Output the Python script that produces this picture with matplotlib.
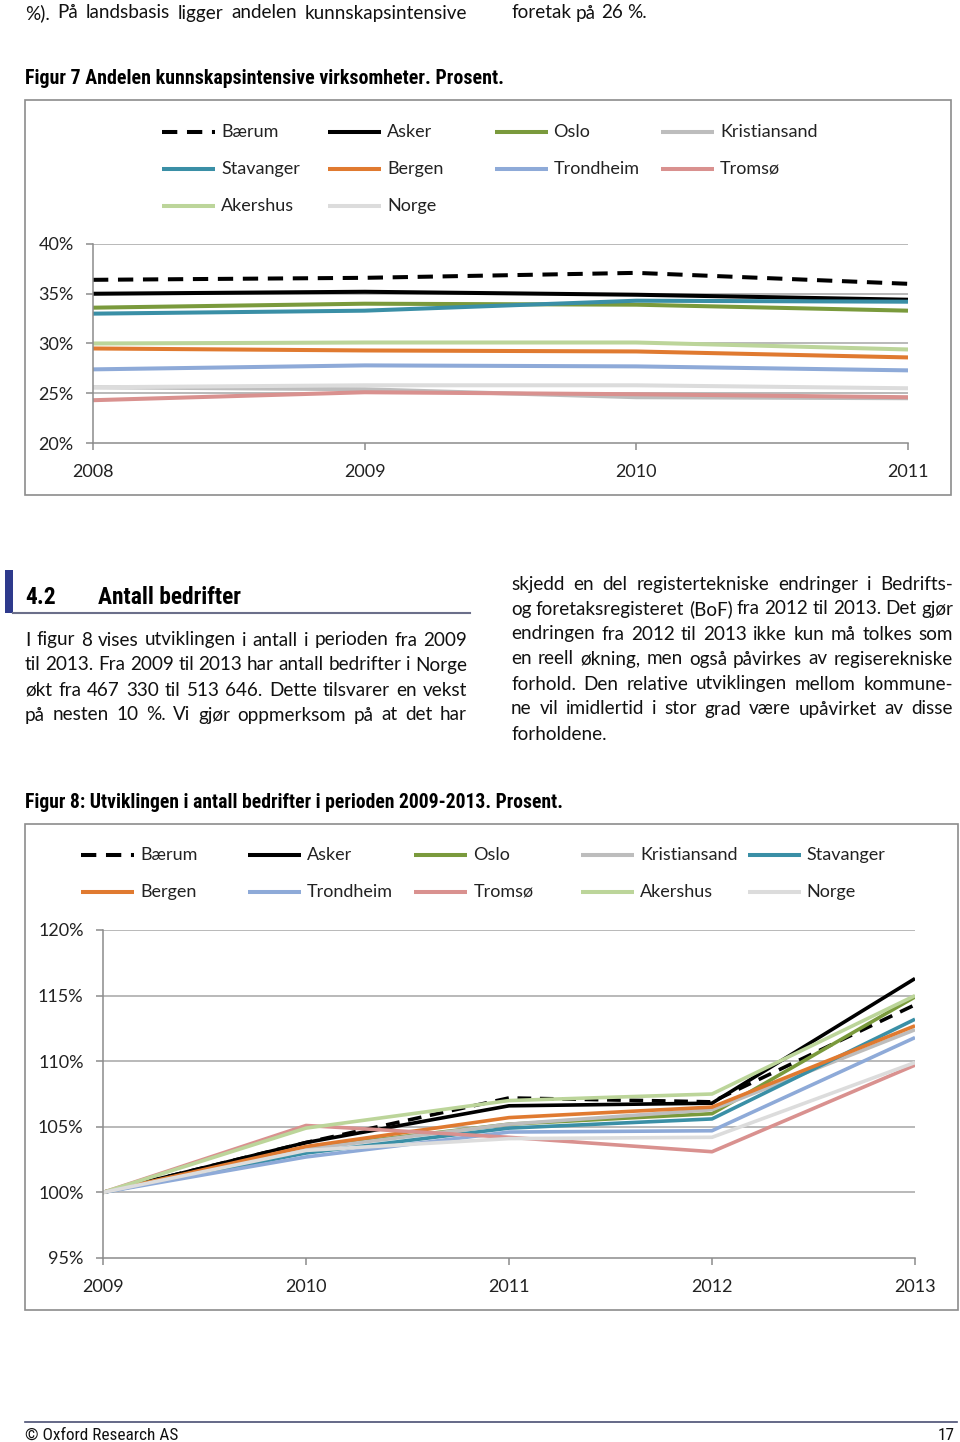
import matplotlib
matplotlib.use("Agg")
import matplotlib.pyplot as plt
from matplotlib import font_manager
from matplotlib.lines import Line2D
from matplotlib.patches import Rectangle

plt.rcParams['font.family'] = ['Lato', 'DejaVu Sans']

W, H = 960, 1442

# ---- data, figur 7 (andel kunnskapsintensive, prosent) ----
years7 = [2008, 2009, 2010, 2011]
baerum7 = [36.4, 36.6, 37.1, 36.0]
asker7 = [35.0, 35.2, 34.9, 34.4]
oslo7 = [33.6, 34.0, 33.9, 33.3]
kristiansand7 = [25.6, 25.4, 24.6, 24.5]
stavanger7 = [33.0, 33.3, 34.3, 34.2]
bergen7 = [29.5, 29.3, 29.2, 28.6]
trondheim7 = [27.4, 27.8, 27.7, 27.3]
tromso7 = [24.3, 25.1, 24.9, 24.6]
akershus7 = [30.0, 30.1, 30.1, 29.4]
norge7 = [25.6, 25.8, 25.8, 25.5]
yticks7 = [20, 25, 30, 35, 40]

# ---- data, figur 8 (antall bedrifter, indeks 2009 = 100 %) ----
years8 = [2009, 2010, 2011, 2012, 2013]
baerum8 = [100, 103.8, 107.2, 106.9, 114.3]
asker8 = [100, 103.8, 106.6, 106.8, 116.3]
oslo8 = [100, 103.4, 105.2, 106.0, 114.9]
kristiansand8 = [100, 103.3, 105.2, 106.3, 112.4]
stavanger8 = [100, 103.0, 104.9, 105.6, 113.2]
bergen8 = [100, 103.5, 105.7, 106.5, 112.7]
trondheim8 = [100, 102.7, 104.6, 104.7, 111.8]
tromso8 = [100, 105.1, 104.2, 103.1, 109.7]
akershus8 = [100, 104.9, 107.0, 107.5, 115.0]
norge8 = [100, 103.2, 104.1, 104.2, 109.9]
yticks8 = [95, 100, 105, 110, 115, 120]

names = ['Bærum', 'Asker', 'Oslo', 'Kristiansand', 'Stavanger',
         'Bergen', 'Trondheim', 'Tromsø', 'Akershus', 'Norge']
colors = ['black', 'black', '#7a9a3c', '#bdbdbd', '#3a8fa6',
          '#e07a30', '#8eaad8', '#d9918f', '#bcd59a', '#dcdcdc']
series7 = [baerum7, asker7, oslo7, kristiansand7, stavanger7,
           bergen7, trondheim7, tromso7, akershus7, norge7]
series8 = [baerum8, asker8, oslo8, kristiansand8, stavanger8,
           bergen8, trondheim8, tromso8, akershus8, norge8]

# narrow font for headings (Arial Narrow in the original); pick what exists
installed = {f.name for f in font_manager.fontManager.ttflist}
narrow_name, narrow_k = 'Liberation Sans', 0.84
for cand, k in [('Liberation Sans Narrow', 1.0), ('Roboto Condensed', 0.97),
                ('Open Sans Condensed', 1.0), ('DejaVu Sans Condensed', 0.9)]:
    if cand in installed:
        narrow_name, narrow_k = cand, k
        break
narrow = [narrow_name, 'DejaVu Sans']

fig = plt.figure(figsize=(W / 100, H / 100), dpi=100)


def fx(x):
    return x / W


def fy(y):
    return 1 - y / H


def rect(l, t, r, b):
    return [fx(l), fy(b), (r - l) / W, (b - t) / H]


def style(i, lw):
    if i == 0:
        return dict(color=colors[i], lw=lw, ls=(0, (3.8, 2.4)))
    return dict(color=colors[i], lw=lw, ls='-')


CHART_FS = 13


def chart(box, axr, years, series, yticks, lw, ncol, leg_x, leg_y, leg_dx):
    l, t, r, b = box
    fig.add_artist(Rectangle((fx(l), fy(b)), (r - l) / W, (b - t) / H,
                             transform=fig.transFigure, fill=False,
                             ec='#8c8c8c', lw=1.2))
    ax = fig.add_axes(rect(*axr))
    for i, s in enumerate(series):
        ax.plot(years, s, solid_capstyle='butt', dash_capstyle='butt', **style(i, lw))
    ax.set_xlim(years[0], years[-1])
    ax.set_ylim(yticks[0], yticks[-1])
    ax.set_xticks(years)
    ax.set_yticks(yticks)
    ax.set_yticklabels([f'{v}%' for v in yticks])
    for v in yticks[1:]:
        ax.axhline(v, color='#a5a5a5', lw=1.1, zorder=0)
    for sp in ['top', 'right']:
        ax.spines[sp].set_visible(False)
    for sp in ['left', 'bottom']:
        ax.spines[sp].set_color('#8c8c8c')
        ax.spines[sp].set_linewidth(1.1)
    ax.tick_params(colors='#8c8c8c', labelcolor='#222222', labelsize=CHART_FS,
                   length=5, width=1.1)
    ax.tick_params(axis='y', pad=9)
    ax.tick_params(axis='x', pad=10)
    ax.set_facecolor('none')
    # legend, row by row like the original
    for i, name in enumerate(names):
        row, col = divmod(i, ncol)
        x0 = leg_x + col * leg_dx
        y0 = leg_y + row * 37
        fig.add_artist(Line2D([fx(x0), fx(x0 + 53)], [fy(y0), fy(y0)],
                              transform=fig.transFigure,
                              solid_capstyle='butt', dash_capstyle='butt',
                              **style(i, 2.9)))
        fig.text(fx(x0 + 59), fy(y0), name, fontsize=CHART_FS, color='#222222',
                 va='center', ha='left')
    return ax


chart((25, 100, 951, 495), (93, 244, 908, 443), years7, series7, yticks7,
      2.9, 4, 162, 132, 166.3)
chart((25, 824, 958, 1310), (103, 930, 915, 1258), years8, series8, yticks8,
      2.6, 5, 81, 855, 166.7)

# ---- page text ----
renderer = fig.canvas.get_renderer()
BODY_FS = 13.6


def justify(line, x0, x1, y, size=BODY_FS, last=False, **kw):
    words = line.split()
    ts = [fig.text(0, fy(y), w, fontsize=size, va='center', ha='left',
                   color='#111111', **kw) for w in words]
    widths = [t.get_window_extent(renderer).width for t in ts]
    sp = fig.text(0, 0, 'a a', fontsize=size, **kw)
    sp2 = fig.text(0, 0, 'aa', fontsize=size, **kw)
    space = sp.get_window_extent(renderer).width - sp2.get_window_extent(renderer).width
    sp.remove()
    sp2.remove()
    if last or len(words) == 1:
        gap = space
    else:
        gap = (x1 - x0 - sum(widths)) / (len(words) - 1)
    x = x0
    for t, w in zip(ts, widths):
        t.set_x(fx(x))
        x += w + gap


justify('%). På landsbasis ligger andelen kunnskapsintensive', 25, 467, 13)
justify('foretak på 26 %.', 511, 953, 13, last=True)

fig.text(fx(25), fy(79), 'Figur 7 Andelen kunnskapsintensive virksomheter. Prosent.',
         family=narrow, fontweight='bold', fontsize=14.8 * narrow_k, va='center')
fig.text(fx(25), fy(802), 'Figur 8: Utviklingen i antall bedrifter i perioden 2009-2013. Prosent.',
         family=narrow, fontweight='bold', fontsize=14.6 * narrow_k, va='center')

# section heading
fig.add_artist(Rectangle((fx(5), fy(613)), 8 / W, 43 / H, transform=fig.transFigure,
                         color='#2e3a8c', lw=0))
fig.add_artist(Line2D([fx(13), fx(470)], [fy(613), fy(613)], transform=fig.transFigure,
                      color='#6b6f8a', lw=1.5))
fig.text(fx(25), fy(598), '4.2', family=narrow, fontweight='bold',
         fontsize=17.4 * narrow_k, va='center')
fig.text(fx(98), fy(598), 'Antall bedrifter', family=narrow, fontweight='bold',
         fontsize=17.4 * narrow_k, va='center')

left_lines = [
    'I figur 8 vises utviklingen i antall i perioden fra 2009',
    'til 2013. Fra 2009 til 2013 har antall bedrifter i Norge',
    'økt fra 467 330 til 513 646. Dette tilsvarer en vekst',
    'på nesten 10 %. Vi gjør oppmerksom på at det har',
]
for k, line in enumerate(left_lines):
    justify(line, 25, 467, 640 + 25 * k)

right_lines = [
    'skjedd en del registertekniske endringer i Bedrifts-',
    'og foretaksregisteret (BoF) fra 2012 til 2013. Det gjør',
    'endringen fra 2012 til 2013 ikke kun må tolkes som',
    'en reell økning, men også påvirkes av regiserekniske',
    'forhold. Den relative utviklingen mellom kommune-',
    'ne vil imidlertid i stor grad være upåvirket av disse',
    'forholdene.',
]
for k, line in enumerate(right_lines):
    justify(line, 511, 953, 584 + 25 * k, last=(k == len(right_lines) - 1))

# footer
fig.add_artist(Line2D([fx(25), fx(957)], [fy(1422), fy(1422)], transform=fig.transFigure,
                      color='#4a4f73', lw=1.2))
fig.text(fx(25), fy(1435), '© Oxford Research AS', family=narrow,
         fontsize=12.8 * narrow_k, va='center', color='#111111')
fig.text(fx(955), fy(1435), '17', family=narrow, fontsize=12.8 * narrow_k,
         va='center', ha='right', color='#111111')

fig.savefig('out.png', dpi=100)
